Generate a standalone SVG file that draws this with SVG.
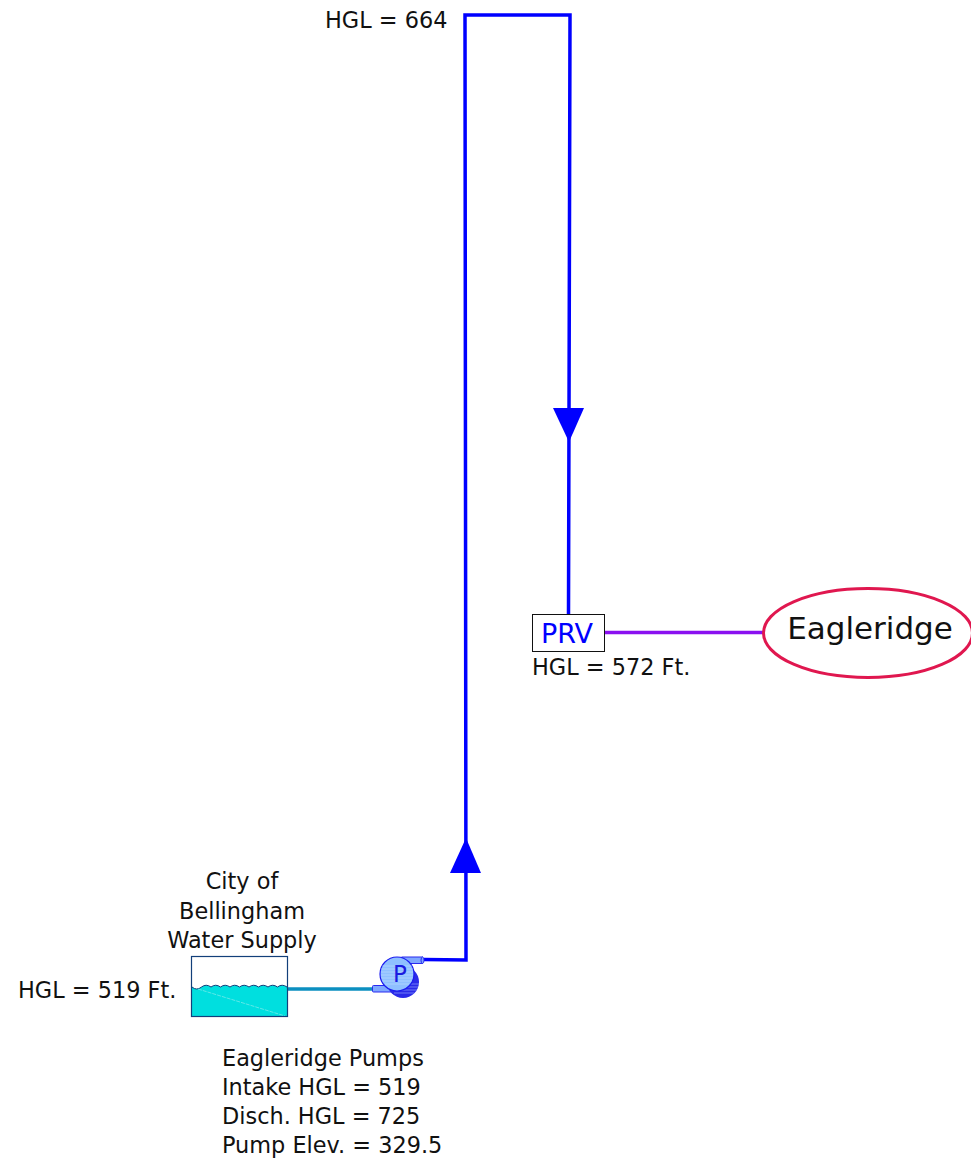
<svg xmlns="http://www.w3.org/2000/svg" width="971" height="1173" viewBox="0 0 971 1173">
<style>
text{font-family:"DejaVu Sans","Liberation Sans",sans-serif;font-size:22.400px;fill:#111}
.m{text-anchor:middle}
.pipe{fill:none;stroke:#0000ff;stroke-width:3.500}
.arrow{fill:#0000ff}
.hatch{stroke:#d8ecff;stroke-width:.6;opacity:.7}
.hatchd{stroke:#9db4ff;stroke-width:.6}
</style>
<rect width="971" height="1173" fill="#fff"/>
<g id="connectors">
<polyline class="pipe" points="424,959.500 466,960 465,15 570,15 568.500,614"/>
<polygon class="arrow" points="466,838 481,873 450,873"/>
<polygon class="arrow" points="553,408 584,408 569,442"/>
<line x1="288" y1="989" x2="372" y2="989" stroke="#0b8fc0" stroke-width="3.500"/>
<line x1="605" y1="632.500" x2="764" y2="632.500" stroke="#8a10f0" stroke-width="3.500"/>
</g>
<g id="tank">
<rect x="191.500" y="956.500" width="96" height="60" fill="#fff"/>
<path d="M192 987q4.600 4 9.500 0q4.600-3.500 9.500 0q4.600-3.500 9.500 0q4.600-3.500 9.500 0q4.600-3.500 9.500 0q4.600-3.500 9.500 0q4.600-3.500 9.500 0q4.600-3.500 9.500 0q4.600-3.500 9.500 0q4.600-3.500 9.500 0V1016H192Z" fill="#00dfdf"/>
<path d="M192 987q4.600 4 9.500 0q4.600-3.500 9.500 0q4.600-3.500 9.500 0q4.600-3.500 9.500 0q4.600-3.500 9.500 0q4.600-3.500 9.500 0q4.600-3.500 9.500 0q4.600-3.500 9.500 0q4.600-3.500 9.500 0q4.600-3.500 9.500 0" fill="none" stroke="#123f7a" stroke-width="1"/>
<line x1="198" y1="989" x2="285" y2="1016" stroke="#5fe8e8" stroke-width="1" stroke-dasharray="4 1"/>
<rect x="191.500" y="956.500" width="96" height="60" fill="none" stroke="#123f7a" stroke-width="1.200"/>
<text class="m" x="242" y="889">City of</text>
<text class="m" x="242" y="919">Bellingham</text>
<text class="m" x="242" y="948">Water Supply</text>
<text x="18" y="998">HGL = 519 Ft.</text>
</g>
<g id="pump">
<rect x="372.500" y="985.500" width="20" height="6.500" rx="1" fill="#7fa8ff" stroke="#2a2af0"/>
<rect x="402" y="957" width="20.500" height="6.500" fill="#7fa8ff" stroke="#2a2af0"/>
<ellipse cx="422.500" cy="960.200" rx="1.500" ry="3.200" fill="#7fa8ff" stroke="#2a2af0"/>
<circle cx="403" cy="982" r="16" fill="#2a2ae8"/>
<path class="hatchd" d="M390 984H419M390 987H418M392 990H417M394 993H414"/>
<circle cx="397" cy="974" r="17" fill="#8fc0ff" stroke="#1a1af0" stroke-width="1.200"/>
<path class="hatch" d="M382 966H412M381 969H413M381 972H413M381 975H413M381 978H413M382 981H412M385 984H409"/>
<text class="m" x="400" y="981.500" style="font-size:23px;fill:#1a1ae0">P</text>
<text x="222" y="1066">Eagleridge Pumps</text>
<text x="222" y="1095">Intake HGL = 519</text>
<text x="222" y="1124">Disch. HGL = 725</text>
<text x="222" y="1153">Pump Elev. = 329.5</text>
</g>
<g id="top-label"><text x="325" y="28">HGL = 664</text></g>
<g id="prv">
<rect x="532.500" y="614.500" width="72" height="37" fill="#fff" stroke="#111" stroke-width="1"/>
<text class="m" x="567" y="643" style="font-size:27px;fill:#0000ff">PRV</text>
<text x="532" y="675">HGL = 572 Ft.</text>
</g>
<g id="eagleridge">
<ellipse cx="868" cy="633" rx="104.500" ry="44.500" fill="#fff" stroke="#e0174f" stroke-width="3"/>
<text class="m" x="870" y="639" style="font-size:31px">Eagleridge</text>
</g>
</svg>
